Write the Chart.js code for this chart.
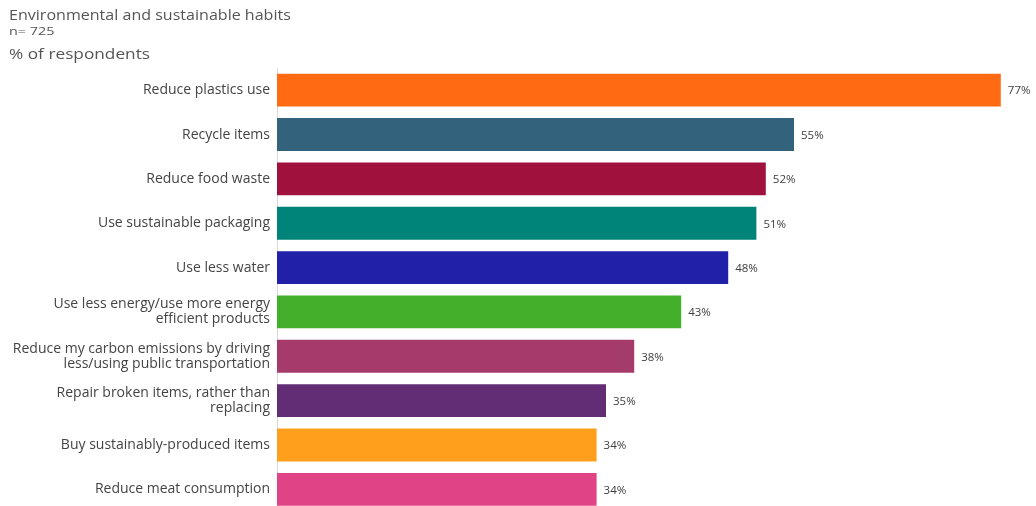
<!DOCTYPE html>
<html>
<head>
<meta charset="utf-8">
<script src="https://cdn.jsdelivr.net/npm/chart.js@4"></script>
<style>
  html, body { margin: 0; padding: 0; background: #fff; overflow: hidden; }
  #wrap { position: relative; width: 1036px; height: 506px; }
  .t { position: absolute; left: 9px; color: #555; font-family: "Open Sans", sans-serif; white-space: nowrap; transform-origin: left top; }
  #title { top: 4px; font-size: 15px; transform: scaleX(1.07); }
  #n { top: 23px; font-size: 11.5px; transform: scaleX(1.25); }
  #unit { top: 43px; font-size: 15px; transform: scaleX(1.15); }
  #c { position: absolute; left: 0; top: 0; }
</style>
</head>
<body>
<div id="wrap">
  <canvas id="c" width="1036" height="526"></canvas>
  <div class="t" id="title">Environmental and sustainable habits</div>
  <div class="t" id="n">n= 725</div>
  <div class="t" id="unit">% of respondents</div>
</div>
<script>
const habits = [
  'Reduce plastics use',
  'Recycle items',
  'Reduce food waste',
  'Use sustainable packaging',
  'Use less water',
  ['Use less energy/use more energy', 'efficient products'],
  ['Reduce my carbon emissions by driving', 'less/using public transportation'],
  ['Repair broken items, rather than', 'replacing'],
  'Buy sustainably-produced items',
  'Reduce meat consumption'
];
const shares = [77, 55, 52, 51, 48, 43, 38, 35, 34, 34];
const barColors = ['#FF6A13', '#33637C', '#A0123D', '#00847A', '#2020A8',
                   '#43AF2B', '#A53B6B', '#622D74', '#FF9F1C', '#E04487'];

// value labels at the end of each bar
const endLabels = {
  id: 'endLabels',
  afterDatasetsDraw(chart) {
    const ctx = chart.ctx;
    const meta = chart.getDatasetMeta(0);
    ctx.save();
    ctx.font = '11.5px "Open Sans", sans-serif';
    ctx.fillStyle = '#404040';
    ctx.textBaseline = 'middle';
    meta.data.forEach((bar, i) => {
      ctx.fillText(shares[i] + '%', bar.x + 7, bar.y + 1);
    });
    ctx.restore();
  }
};

new Chart(document.getElementById('c').getContext('2d'), {
  type: 'bar',
  data: {
    labels: habits,
    datasets: [{
      data: shares,
      backgroundColor: barColors,
      barPercentage: 0.74,
      categoryPercentage: 1
    }]
  },
  options: {
    indexAxis: 'y',
    responsive: false,
    animation: false,
    layout: { padding: { top: 68, right: 7, bottom: 8, left: 0 } },
    scales: {
      x: {
        display: false,
        min: 0,
        max: 80
      },
      y: {
        afterFit(axis) { axis.width = 277; },
        grid: { display: false, drawTicks: false },
        border: { color: '#d9d9d9', width: 1 },
        ticks: {
          color: '#444',
          padding: 7,
          font: { family: '"Open Sans", sans-serif', size: 14, lineHeight: 1.07 }
        }
      }
    },
    plugins: {
      legend: { display: false },
      tooltip: { enabled: false }
    }
  },
  plugins: [endLabels]
});
</script>
</body>
</html>
